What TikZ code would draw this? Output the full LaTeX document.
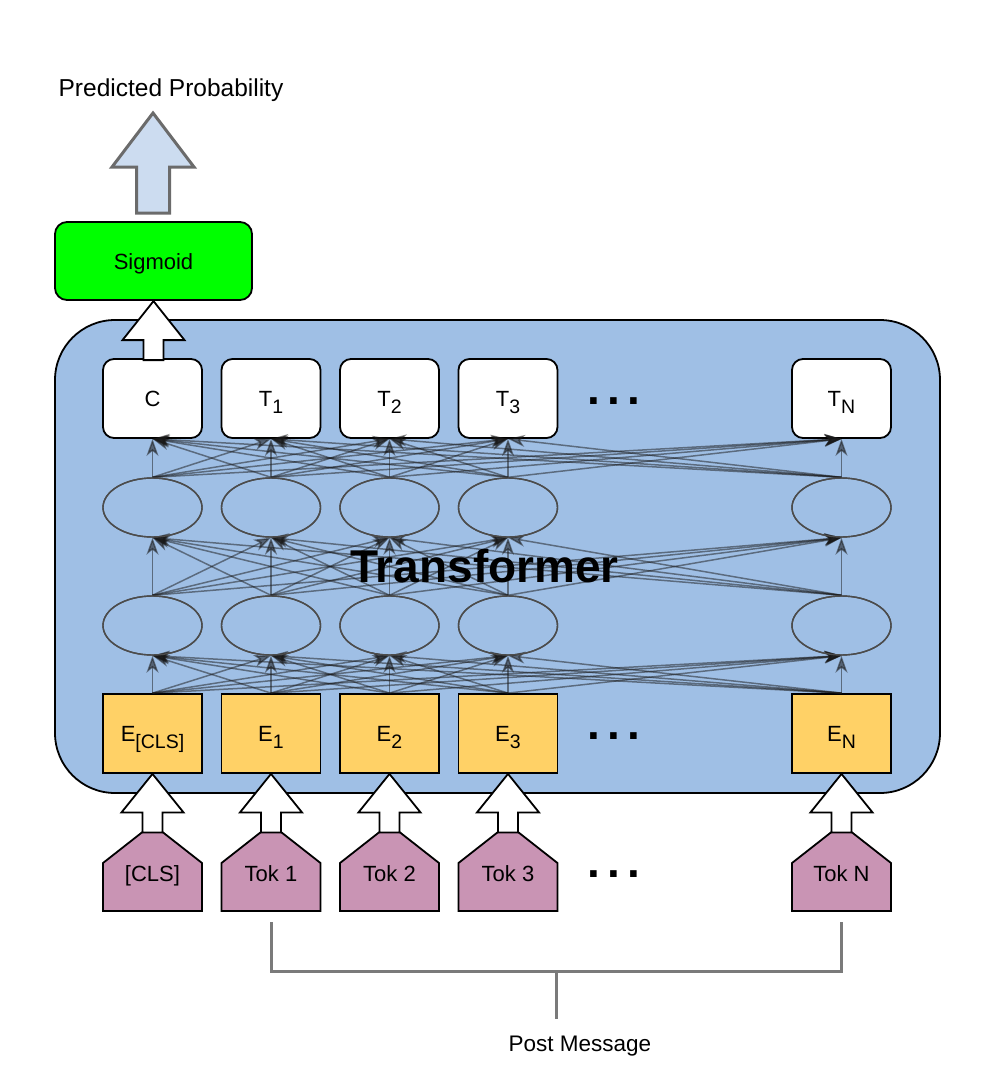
\documentclass[tikz,border=0pt]{standalone}
\usepackage{fontspec}
\setmainfont{Liberation Sans}
\usetikzlibrary{shapes.geometric,arrows.meta,calc}
\definecolor{tbg}{HTML}{9FBFE5}
\definecolor{efill}{HTML}{FFD166}
\definecolor{tokfill}{HTML}{C994B4}
\definecolor{sigfill}{HTML}{00FF00}
\definecolor{parrow}{HTML}{CCDCF0}
\definecolor{pedge}{HTML}{6B6B6B}
\definecolor{brk}{HTML}{7A7A7A}
\newcommand{\mysub}[1]{\smash{\raisebox{-6.5pt}{\fontsize{19.5}{20}\selectfont #1}}}
\begin{document}
\begin{tikzpicture}[x=1pt,y=-1pt,
  lab/.style={font=\fontsize{22}{26}\selectfont,text height=16pt,text depth=0pt},
  outbox/.style={draw=black,line width=1.8pt,fill=white,rounded corners=11pt,minimum width=99pt,minimum height=79pt,inner sep=0pt,lab},
  ebox/.style={draw=black,line width=1.8pt,fill=efill,minimum width=99pt,minimum height=79pt,inner sep=0pt,lab},
  hid/.style={draw=black!70,line width=1.4pt,ellipse,minimum width=99pt,minimum height=59pt,inner sep=0pt},
  conn/.style={draw=black!90,draw opacity=0.5,fill opacity=0.55,line width=1.5pt,-{Stealth[length=17pt,width=12pt,inset=5pt]}},
  warrow/.style={draw=black,line width=1.8pt,fill=white,line join=miter},
  tokshape/.style={draw=black,line width=1.8pt,fill=tokfill,line join=miter},
  dots/.style={font=\bfseries\fontsize{46}{46}\selectfont,inner sep=0pt},
  brkline/.style={draw=brk,line width=3pt},
]
\useasboundingbox (0,0) rectangle (990,1077);

% title
\node[font=\fontsize{24.5}{28}\selectfont,anchor=base] (pp) at (171,96) {Predicted Probability};

% sigmoid
\node[draw=black,line width=1.8pt,fill=sigfill,rounded corners=12pt,minimum width=197pt,minimum height=78pt,inner sep=0pt,lab] (sig) at (153.5,261) {Sigmoid};

% output arrow
\coordinate (ptip) at (153,113);
\draw[draw=pedge,fill=parrow,line width=3pt,line join=miter]
  (ptip) -- ++(41,54) -- ++(-24.5,0) -- ++(0,46) -- ++(-33,0) -- ++(0,-46) -- ++(-24.5,0) -- cycle;

% transformer container
\node[draw=black,line width=1.8pt,fill=tbg,rounded corners=60pt,minimum width=885pt,minimum height=473pt,inner sep=0pt] (tf) at (497.5,556.5) {};

% nodes
\foreach \n/\x in {0/152.5,1/271,2/389.5,3/508,4/841.5}{
  \node[hid] (ha\n) at (\x,625.5) {};
  \node[hid] (hb\n) at (\x,507.5) {};
}
\node[ebox] (e0) at (152.5,733.5) {E\mysub{[CLS]}};
\node[ebox] (e1) at (271,733.5) {E\mysub{1}};
\node[ebox] (e2) at (389.5,733.5) {E\mysub{2}};
\node[ebox] (e3) at (508,733.5) {E\mysub{3}};
\node[ebox] (e4) at (841.5,733.5) {E\mysub{N}};

% connectors
\foreach \i in {0,...,4}{
  \foreach \j in {0,...,4}{
    \draw[conn] (e\i.north) -- (ha\j.south);
    \draw[conn] (ha\i.north) -- (hb\j.south);
  }
}
\node[outbox] (o0) at (152.5,398.5) {C};
\node[outbox] (o1) at (271,398.5) {T\mysub{1}};
\node[outbox] (o2) at (389.5,398.5) {T\mysub{2}};
\node[outbox] (o3) at (508,398.5) {T\mysub{3}};
\node[outbox] (o4) at (841.5,398.5) {T\mysub{N}};
\foreach \i in {0,...,4}{
  \foreach \j in {0,...,4}{
    \draw[conn] (hb\i.north) -- (o\j.south);
  }
}
\foreach \n in {0,...,4}{
  \node[hid] at (ha\n) {};
  \node[hid] at (hb\n) {};
}

% C -> sigmoid arrow
\draw[warrow] (o0.north -| sig.south) ++(0,-57) -- ++(31,39) -- ++(-21,0) -- ++(0,20) -- ++(-20,0) -- ++(0,-20) -- ++(-21,0) -- cycle;

% transformer label
\node[font=\bfseries\fontsize{46}{50}\selectfont] (tlab) at (484.5,566) {Transformer};

% dots
\node[dots] (d1) at (614,401) {.\hspace{7pt}.\hspace{7pt}.};
\node[dots] (d2) at (614,736) {.\hspace{7pt}.\hspace{7pt}.};
\node[dots] (d3) at (614,874) {.\hspace{7pt}.\hspace{7pt}.};

% tokens
\foreach \n/\x/\t in {0/152.5/{[CLS]},1/271/{Tok 1},2/389.5/{Tok 2},3/508/{Tok 3},4/841.5/{Tok N}}{
  \draw[tokshape] (\x-49.5,911) -- (\x-49.5,863) -- (\x-10,832) -- (\x+10,832) -- (\x+49.5,863) -- (\x+49.5,911) -- cycle;
  \node[lab] (tk\n) at (\x,873) {\t};
  \draw[warrow] (e\n.south) -- ++(31,38.5) -- ++(-21,0) -- ++(0,20) -- ++(-20,0) -- ++(0,-20) -- ++(-21,0) -- cycle;
}

% bracket
\coordinate (b1) at (271,922);
\coordinate (b2) at (841,922);
\coordinate (bm) at (556,971);
\draw[brkline] (b1) -- (b1 |- bm) -- (b2 |- bm) -- (b2);
\node[font=\fontsize{22.5}{26}\selectfont,anchor=base] (pm) at (580,1051) {Post Message};
\draw[brkline] (bm) -- ($(bm)+(0,48)$);
\end{tikzpicture}
\end{document}
